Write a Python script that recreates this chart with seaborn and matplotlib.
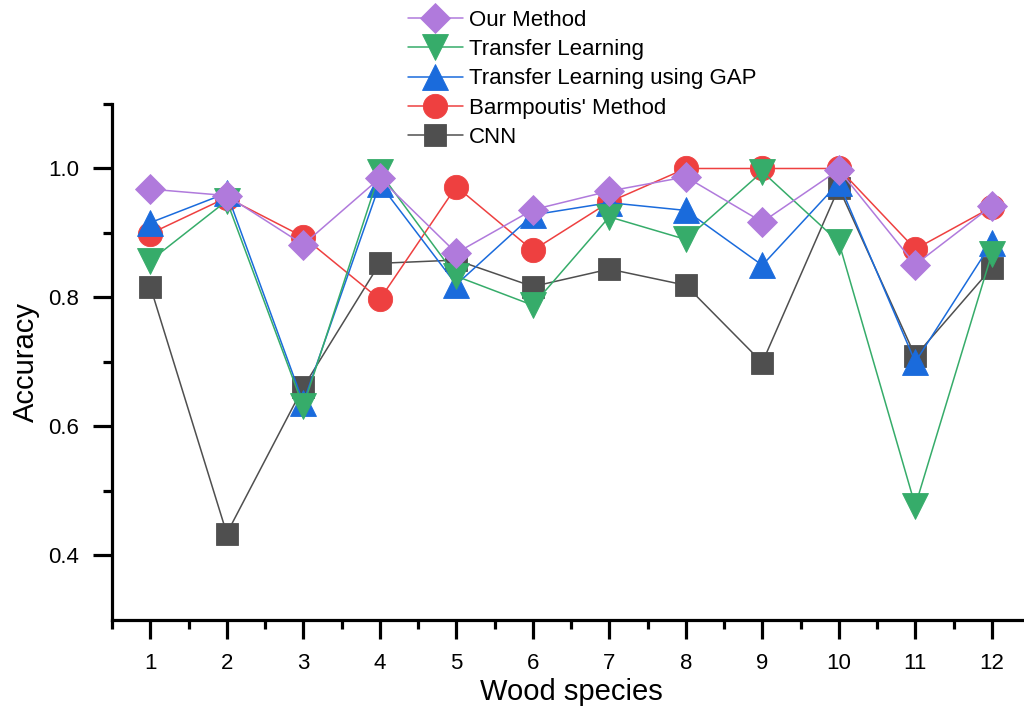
import pandas as pd
import matplotlib.pyplot as plt
import seaborn as sns

# values
species = [1, 2, 3, 4, 5, 6, 7, 8, 9, 10, 11, 12]
cnn = [0.817, 0.434, 0.661, 0.853, 0.858, 0.817, 0.844, 0.819, 0.699, 0.970, 0.709, 0.846]
barmpoutis = [0.899, 0.955, 0.894, 0.797, 0.972, 0.873, 0.948, 1.0, 1.0, 1.0, 0.875, 0.940]
tl_gap = [0.916, 0.962, 0.637, 0.976, 0.820, 0.928, 0.947, 0.935, 0.850, 0.978, 0.700, 0.885]
tl = [0.857, 0.950, 0.631, 0.994, 0.833, 0.788, 0.925, 0.890, 0.995, 0.886, 0.477, 0.868]
ours = [0.968, 0.958, 0.882, 0.985, 0.869, 0.936, 0.965, 0.987, 0.917, 0.998, 0.851, 0.942]

sns.set_style("ticks")
plt.rcParams["font.family"] = ["Liberation Sans", "DejaVu Sans"]
plt.rcParams["text.color"] = "black"
plt.rcParams["axes.labelcolor"] = "black"
plt.rcParams["axes.edgecolor"] = "black"
plt.rcParams["xtick.color"] = "black"
plt.rcParams["ytick.color"] = "black"

fig = plt.figure(figsize=(10.24, 7.07), dpi=100)
ax = fig.add_axes([0.1094, 0.1231, 0.8965, 0.7298])

# drawn bottom to top, as in the reference
series = [
    ("CNN", cnn, "#4f4f4f", "s", 16),
    ("Barmpoutis' Method", barmpoutis, "#ee4040", "o", 17.5),
    ("Transfer Learning using GAP", tl_gap, "#1a6bdc", "^", 19),
    ("Transfer Learning", tl, "#36ac6a", "v", 19),
    ("Our Method", ours, "#b07adc", "D", 15),
]

handles = {}
for i, (name, vals, col, mk, ms) in enumerate(series):
    df = pd.DataFrame({"species": species, "acc": vals})
    sns.lineplot(data=df, x="species", y="acc", ax=ax, color=col, linewidth=1.1,
                 marker=mk, markersize=ms, markeredgecolor=col, markeredgewidth=0.6,
                 zorder=3 + i, label=name, legend=False)
    handles[name] = ax.lines[-1]

ax.set_xlim(0.5, 12.5)
ax.set_ylim(0.3, 1.1)
ax.set_xticks(species)
ax.set_xticks([x + 0.5 for x in range(0, 13)], minor=True)
ax.set_yticks([0.4, 0.6, 0.8, 1.0])
ax.set_yticklabels(["0.4", "0.6", "0.8", "1.0"])
ax.set_yticks([0.5, 0.7, 0.9, 1.1], minor=True)

for s in ["top", "right"]:
    ax.spines[s].set_visible(False)
for s in ["left", "bottom"]:
    ax.spines[s].set_linewidth(2.3)
ax.tick_params(which="major", length=13.5, width=2.3, labelsize=16, pad=10)
ax.tick_params(which="minor", length=6.5, width=2.3)

ax.set_xlabel("Wood species", fontsize=21, labelpad=3)
ax.set_ylabel("Accuracy", fontsize=21, labelpad=6)

order = ["Our Method", "Transfer Learning", "Transfer Learning using GAP",
         "Barmpoutis' Method", "CNN"]
fig.legend([handles[n] for n in order], order, loc="upper left",
           bbox_to_anchor=(0.398, 0.986), frameon=False, fontsize=16,
           handlelength=2.5, handletextpad=0.25, labelspacing=0.37,
           borderpad=0, borderaxespad=0)

fig.savefig("out.png", dpi=100)
